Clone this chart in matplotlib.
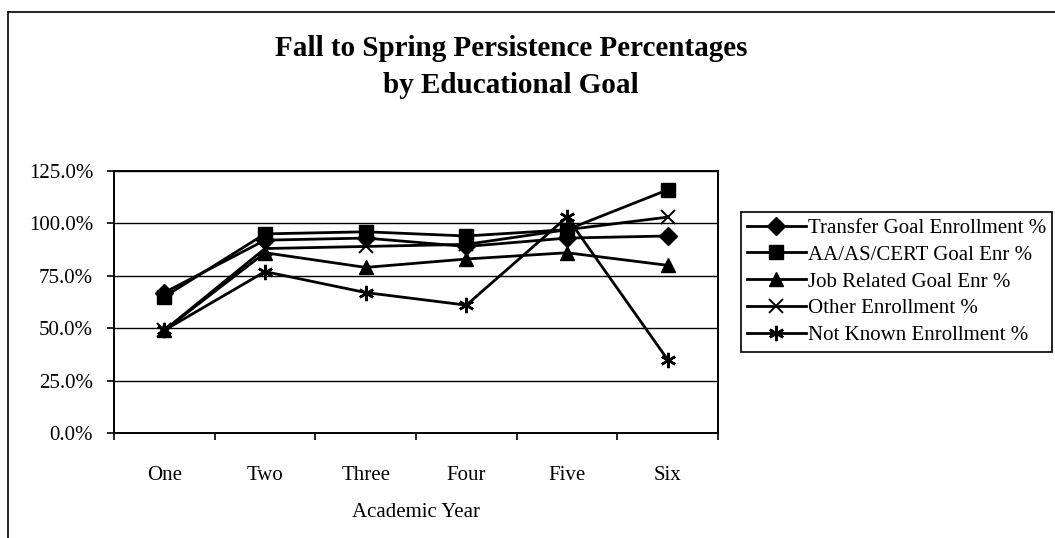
import matplotlib
matplotlib.use("Agg")
import matplotlib.pyplot as plt
from matplotlib.lines import Line2D
from matplotlib.ticker import FixedLocator, FuncFormatter

plt.rcParams['font.family'] = ['Liberation Serif', 'DejaVu Serif']

years = ["One", "Two", "Three", "Four", "Five", "Six"]
transfer = [67, 92, 93, 89, 93, 94]
aa_cert = [65, 95, 96, 94, 97, 116]
job_related = [49, 86, 79, 83, 86, 80]
other = [49, 88, 89, 90, 97, 103]
not_known = [49, 77, 67, 61, 103, 35]

series = [
    ("Transfer Goal Enrollment %", transfer, "D", 9, 1.0),
    ("AA/AS/CERT Goal Enr %", aa_cert, "s", 10, 1.0),
    ("Job Related Goal Enr %", job_related, "^", 10, 1.0),
    ("Other Enrollment %", other, "x", 10, 1.4),
    ("Not Known Enrollment %", not_known, (6, 2, 0), 11, 1.8),
]

W, H = 1055, 538
fig = plt.figure(figsize=(W / 100, H / 100), dpi=100)

# outer chart frame (top and left edges visible)
fig.add_artist(Line2D([8 / W, 1], [1 - 12 / H, 1 - 12 / H], color="black", lw=1.2))
fig.add_artist(Line2D([8 / W, 8 / W], [0, 1 - 12 / H], color="black", lw=1.2))

ax = fig.add_axes([114 / W, 1 - 433 / H, 604 / W, 262 / H])
x = list(range(len(years)))
for label, vals, mk, ms, mew in series:
    ax.plot(x, vals, color="black", lw=2.0, marker=mk, markersize=ms,
            markeredgewidth=mew, markerfacecolor="black", markeredgecolor="black",
            label=label, clip_on=False)

ax.set_xlim(-0.5, 5.5)
ax.set_ylim(0, 125)
ax.yaxis.set_major_locator(FixedLocator([0, 25, 50, 75, 100, 125]))
ax.yaxis.set_major_formatter(FuncFormatter(lambda v, p: f"{v:.1f}%"))
ax.grid(axis="y", color="black", lw=1.0)
ax.set_axisbelow(True)

ax.set_xticks([i - 0.5 for i in range(len(years) + 1)])
ax.set_xticklabels([])
ax.set_xticks(x, minor=True)
ax.set_xticklabels(years, minor=True)
ax.tick_params(axis="x", which="minor", length=0, pad=24, labelsize=15)
ax.tick_params(axis="x", which="major", length=5, width=1.2, direction="out")
ax.tick_params(axis="y", length=5, width=1.2, direction="out", pad=10, labelsize=15)
for s in ax.spines.values():
    s.set_linewidth(1.4)

ax.set_xlabel("Academic Year", fontsize=15, labelpad=13)

fig.text(511 / W, 1 - 67 / H, "Fall to Spring Persistence Percentages\nby Educational Goal",
         ha="center", va="center", fontsize=21, fontweight="bold", linespacing=1.45)

leg = ax.legend(loc="upper left", bbox_to_anchor=(741 / W, 1 - 212 / H),
                bbox_transform=fig.transFigure, fontsize=15, frameon=True,
                fancybox=False, edgecolor="black", framealpha=1,
                handlelength=2.8, handletextpad=0.1, labelspacing=0.35,
                borderpad=0.3, borderaxespad=0)
leg.get_frame().set_linewidth(1.2)

fig.savefig("out.png", dpi=100)
